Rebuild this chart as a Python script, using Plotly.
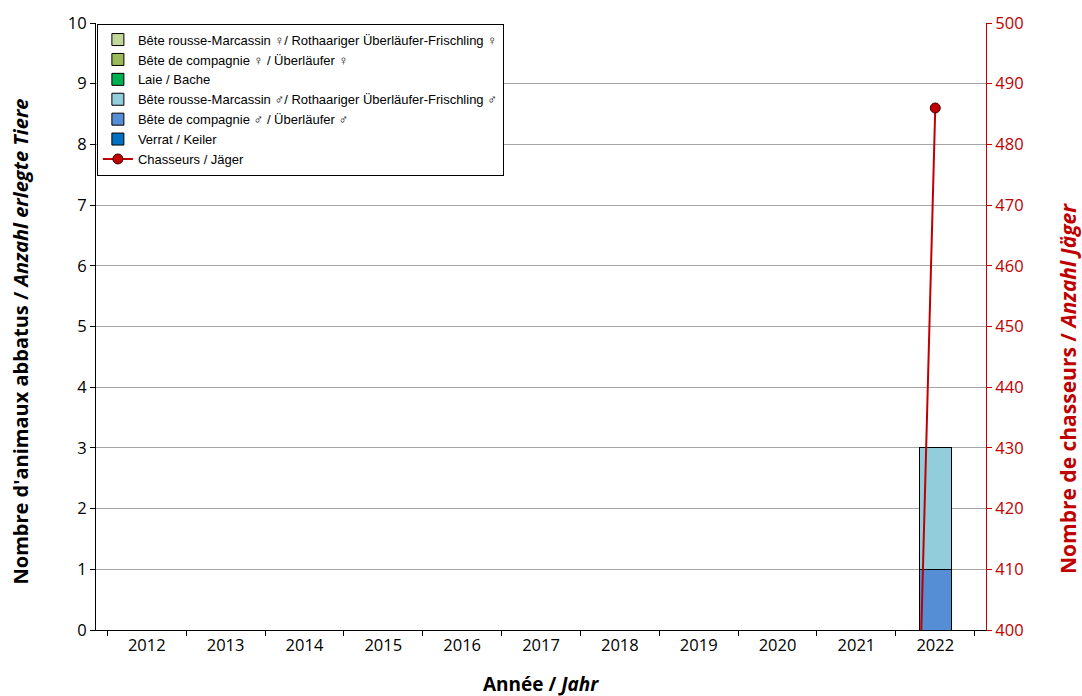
import plotly.graph_objects as go

years = [str(y) for y in range(2012, 2023)]

verrat = [0, 0, 0, 0, 0, 0, 0, 0, 0, 0, 0]
compagnie_m = [0, 0, 0, 0, 0, 0, 0, 0, 0, 0, 1]
rousse_m = [0, 0, 0, 0, 0, 0, 0, 0, 0, 0, 2]
laie = [0, 0, 0, 0, 0, 0, 0, 0, 0, 0, 0]
compagnie_f = [0, 0, 0, 0, 0, 0, 0, 0, 0, 0, 0]
rousse_f = [0, 0, 0, 0, 0, 0, 0, 0, 0, 0, 0]
chasseurs = [0, 0, 0, 0, 0, 0, 0, 0, 0, 0, 486]

# stacking order: bottom first
BAR_SERIES = [
    ("Verrat / Keiler", verrat, "#0070C0"),
    ("Bête de compagnie ♂ / Überläufer ♂", compagnie_m, "#558ED5"),
    ("Bête rousse-Marcassin ♂/ Rothaariger Überläufer-Frischling ♂", rousse_m, "#92CDDC"),
    ("Laie / Bache", laie, "#00B050"),
    ("Bête de compagnie ♀ / Überläufer ♀", compagnie_f, "#9BBB59"),
    ("Bête rousse-Marcassin ♀/ Rothaariger Überläufer-Frischling ♀", rousse_f, "#C4D79B"),
]

RED = "#C00000"
FONT = "Open Sans, Calibri, sans-serif"
TICK_FONT = {"family": FONT, "size": 16.5, "color": "#000000"}

fig = go.Figure()
for rank, (name, values, color) in enumerate(BAR_SERIES):
    fig.add_trace(
        go.Bar(
            x=years,
            y=values,
            name=name,
            marker={"color": color, "line": {"color": "#000000", "width": 1}},
            width=0.41,
            legendrank=100 - rank,
        )
    )

fig.add_trace(
    go.Scatter(
        x=years,
        y=chasseurs,
        name="Chasseurs / Jäger",
        mode="lines+markers",
        yaxis="y2",
        line={"color": RED, "width": 2},
        marker={"color": RED, "size": 10, "line": {"color": "#400000", "width": 1}},
        legendrank=200,
    )
)

fig.update_layout(
    width=1082,
    height=696,
    barmode="stack",
    paper_bgcolor="white",
    plot_bgcolor="white",
    margin={"l": 96, "r": 96, "t": 23, "b": 66},
    showlegend=True,
    legend={
        "x": 0.001,
        "y": 0.999,
        "xanchor": "left",
        "yanchor": "top",
        "traceorder": "normal",
        "bgcolor": "white",
        "bordercolor": "#000000",
        "borderwidth": 1,
        "font": {"family": "Liberation Sans, Arial, sans-serif", "size": 13, "color": "#000000"},
        "tracegroupgap": 0,
        "itemwidth": 30,
    },
    xaxis={
        "type": "category",
        "automargin": False,
        "showgrid": False,
        "showline": True,
        "linecolor": "#000000",
        "ticks": "outside",
        "tickson": "boundaries",
        "ticklen": 5,
        "tickcolor": "#000000",
        "tickfont": TICK_FONT,
    },
    yaxis={
        "range": [0, 10],
        "dtick": 1,
        "automargin": False,
        "showgrid": True,
        "gridcolor": "#A6A6A6",
        "showline": True,
        "linecolor": "#000000",
        "ticks": "outside",
        "ticklen": 5,
        "tickcolor": "#000000",
        "tickfont": TICK_FONT,
        "zeroline": False,
    },
    yaxis2={
        "range": [400, 500],
        "dtick": 10,
        "overlaying": "y",
        "side": "right",
        "automargin": False,
        "showgrid": False,
        "showline": True,
        "linecolor": RED,
        "ticks": "outside",
        "ticklen": 5,
        "tickcolor": RED,
        "tickfont": {"family": FONT, "size": 16.5, "color": RED},
        "zeroline": False,
    },
)

# axis titles placed as in the reference
fig.add_annotation(
    text="<b>Année / <i>Jahr</i></b>",
    xref="paper", yref="paper", x=0.5, y=-0.089,
    xanchor="center", yanchor="middle", showarrow=False,
    font={"family": FONT, "size": 19, "color": "#000000"},
)
fig.add_annotation(
    text="<b>Nombre d'animaux abbatus / <i>Anzahl erlegte Tiere</i></b>",
    xref="paper", yref="paper", x=-0.0843, y=0.4753,
    xanchor="center", yanchor="middle", textangle=-90, showarrow=False,
    font={"family": FONT, "size": 20, "color": "#000000"},
)
fig.add_annotation(
    text="<b>Nombre de chasseurs / <i>Anzahl Jäger</i></b>",
    xref="paper", yref="paper", x=1.0921, y=0.3986,
    xanchor="center", yanchor="middle", textangle=-90, showarrow=False,
    font={"family": FONT, "size": 21, "color": RED},
)

# drop the page's default body margin so the figure fills the window exactly
fig.write_html(
    "out.html",
    config={"displayModeBar": False},
    post_script="document.body.style.margin = '0';",
)
